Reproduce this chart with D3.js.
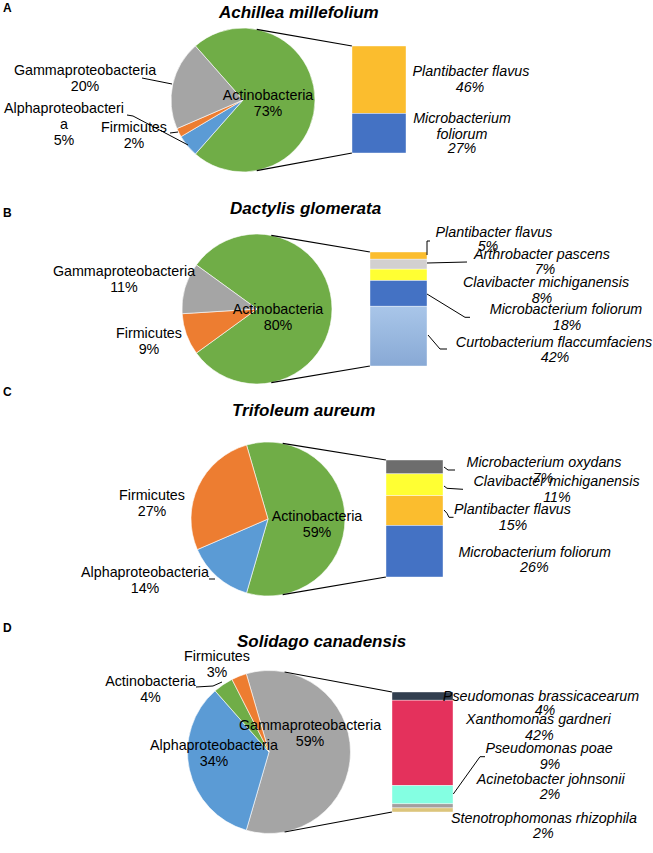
<!DOCTYPE html>
<html><head><meta charset="utf-8">
<script src="https://cdn.jsdelivr.net/npm/d3@7"></script>
<style>
body{margin:0;background:#fff}
svg{display:block}
text{font-family:"Liberation Sans",Arial,Helvetica,sans-serif;fill:#000}
</style>
</head><body>
<svg id="chart" width="653" height="853"></svg>
<script>
// ---------- DATA ----------
const panelLetters = ["A", "B", "C", "D"];
const plantTitles = ["Achillea millefolium", "Dactylis glomerata", "Trifoleum aureum", "Solidago canadensis"];

// Phylum shares (pie); first entry = slice expanded into the bar, others clockwise
const phylaA = ["Actinobacteria", "Alphaproteobacteria", "Firmicutes", "Gammaproteobacteria"];
const phylaValuesA = [73, 5, 2, 20];
const phylaB = ["Actinobacteria", "Firmicutes", "Gammaproteobacteria"];
const phylaValuesB = [80, 9, 11];
const phylaC = ["Actinobacteria", "Alphaproteobacteria", "Firmicutes"];
const phylaValuesC = [59, 14, 27];
const phylaD = ["Gammaproteobacteria", "Alphaproteobacteria", "Actinobacteria", "Firmicutes"];
const phylaValuesD = [59, 34, 4, 3];

// Species shares (bar), top to bottom
const speciesA = ["Plantibacter flavus", "Microbacterium foliorum"];
const speciesValuesA = [46, 27];
const speciesB = ["Plantibacter flavus", "Arthrobacter pascens", "Clavibacter michiganensis", "Microbacterium foliorum", "Curtobacterium flaccumfaciens"];
const speciesValuesB = [5, 7, 8, 18, 42];
const speciesC = ["Microbacterium oxydans", "Clavibacter michiganensis", "Plantibacter flavus", "Microbacterium foliorum"];
const speciesValuesC = [7, 11, 15, 26];
const speciesD = ["Pseudomonas brassicacearum", "Xanthomonas gardneri", "Pseudomonas poae", "Acinetobacter johnsonii", "Stenotrophomonas rhizophila"];
const speciesValuesD = [4, 42, 9, 2, 2];

// ---------- STYLE ----------
const phylumColors = {
  "Actinobacteria": "#70ad47",
  "Gammaproteobacteria": "#a5a5a5",
  "Firmicutes": "#ed7d31",
  "Alphaproteobacteria": "#5b9bd5"
};
const speciesColors = {
  "Plantibacter flavus": "#fbbd2e",
  "Microbacterium foliorum": "#4472c4",
  "Arthrobacter pascens": "#d2d0d0",
  "Clavibacter michiganensis": "#ffff33",
  "Curtobacterium flaccumfaciens": "url(#gradCurto)",
  "Microbacterium oxydans": "#6d6d6d",
  "Pseudomonas brassicacearum": "#323f4f",
  "Xanthomonas gardneri": "#e4315c",
  "Pseudomonas poae": "#84ffe2",
  "Acinetobacter johnsonii": "#a39e9e",
  "Stenotrophomonas rhizophila": "#dcc57c"
};

// ---------- LAYOUT ----------
const layout = [
  {cx: 243, cy: 100, r: 72,   barX: 352, barW: 54, barTop: 46,  barBot: 153, titleX: 219, titleY: 18,  letterY: 12},
  {cx: 257, cy: 309, r: 75,   barX: 370, barW: 57, barTop: 252, barBot: 366, titleX: 230, titleY: 214, letterY: 217},
  {cx: 268, cy: 519, r: 77,   barX: 386, barW: 57, barTop: 460, barBot: 577, titleX: 232, titleY: 416, letterY: 396},
  {cx: 269, cy: 752, r: 81.5, barX: 392, barW: 61, barTop: 692, barBot: 812, titleX: 237, titleY: 647, letterY: 632}
];
// pie label positions [cx, baseline, nameBreak]
const pieLabelPos = [
  [[268, 100], [64, 113, 18], [134, 132], [85, 75]],
  [[278, 314], [149, 338], [124, 276]],
  [[317, 521], [145, 577], [152, 500]],
  [[310, 730], [214, 750], [150.5, 686], [217, 661]]
];
const pieLeaders = [
  [[[142, 78], [172, 84]], [[127, 115], [133, 116], [188, 145]], [[170, 133], [178, 132]]],
  [],
  [[[209, 579], [215, 579]]],
  [[[196, 687], [213, 686], [222, 682]]]
];
// bar label positions [cx, baseline, pctCx, pctBaseline, nameBreak]
const barLabelPos = [
  [[471, 76, 470, 92], [462, 122.7, 462, 153, 14]],
  [[494, 236.7, 488, 250.5], [542, 259.3, 545, 274], [546, 287.3, 542, 302.7], [566, 314, 567, 330], [554, 346.7, 555, 361.7]],
  [[544, 467.3, 543, 483.3], [556.5, 485.7, 557, 501.7], [512.5, 514, 513, 530], [534.7, 556.7, 534.3, 571.7]],
  [[541, 700.7, 545, 715], [538.3, 724, 539.3, 740], [549, 753.3, 550, 769], [550.7, 784, 550, 799.3], [544, 823.3, 543.3, 838.3]]
];
const barLeaders = [
  [],
  [[[427, 255], [427, 241], [430, 241]], [[427, 263], [467, 262]], [[427, 294], [465, 317.3], [470, 317.3]], [[428, 335], [440, 349], [447, 349]]],
  [[[444, 467], [448, 470], [455, 470]], [[444, 486], [447, 488.3], [463, 489.3]], [[444, 510], [447, 513.3], [449, 517.3], [453.5, 517.3]]],
  [[[453.3, 794], [480, 756.7], [485, 756.7]]]
];

const phylaSets = [[phylaA, phylaValuesA], [phylaB, phylaValuesB], [phylaC, phylaValuesC], [phylaD, phylaValuesD]];
const speciesSets = [[speciesA, speciesValuesA], [speciesB, speciesValuesB], [speciesC, speciesValuesC], [speciesD, speciesValuesD]];

// ---------- DRAW ----------
const svg = d3.select("#chart");
const defs = svg.append("defs");
const g = defs.append("linearGradient").attr("id", "gradCurto").attr("x1", 0).attr("y1", 0).attr("x2", 0).attr("y2", 1);
g.append("stop").attr("offset", "0%").attr("stop-color", "#a9c6e9");
g.append("stop").attr("offset", "100%").attr("stop-color", "#88a9d5");

const line = d3.line();
const FS = 14.3;
const LH = 16;

function multiLine(sel, lines, cx, y, italic) {
  const t = sel.append("text")
    .attr("text-anchor", "middle")
    .attr("font-size", FS)
    .attr("font-style", italic ? "italic" : "normal");
  lines.forEach((s, i) => {
    t.append("tspan").attr("x", cx).attr("y", y + i * LH).text(s);
  });
  return t;
}

panelLetters.forEach((letter, p) => {
  const L = layout[p];
  const [names, values] = phylaSets[p];
  const [spNames, spValues] = speciesSets[p];
  const panel = svg.append("g");

  // panel letter and title
  panel.append("text").attr("x", 3).attr("y", L.letterY)
    .attr("font-size", 12).attr("font-weight", "bold").text(letter);
  panel.append("text").attr("x", L.titleX).attr("y", L.titleY)
    .attr("font-size", 17).attr("font-weight", "bold").attr("font-style", "italic")
    .text(plantTitles[p]);

  // pie
  const total = d3.sum(values);
  const half = values[0] / total * Math.PI;
  const start = Math.PI / 2 - half;
  const pie = d3.pie().sort(null).value(d => d.v).startAngle(start).endAngle(start + 2 * Math.PI);
  const arc = d3.arc().innerRadius(0).outerRadius(L.r);
  const arcs = pie(names.map((n, i) => ({n, v: values[i]})));
  panel.append("g").attr("transform", `translate(${L.cx},${L.cy})`)
    .selectAll("path").data(arcs).join("path")
    .attr("d", arc)
    .attr("fill", d => phylumColors[d.data.n])
    .attr("stroke", "#ffffff").attr("stroke-width", 0.6);

  // series lines from pie to bar
  const th = 11 * Math.PI / 180;
  const px = L.cx + L.r * Math.sin(th);
  const dy = L.r * Math.cos(th);
  panel.append("path").attr("d", line([[px, L.cy - dy], [L.barX, L.barTop]]))
    .attr("stroke", "#000").attr("stroke-width", 1.2).attr("fill", "none");
  panel.append("path").attr("d", line([[px, L.cy + dy], [L.barX, L.barBot]]))
    .attr("stroke", "#000").attr("stroke-width", 1.2).attr("fill", "none");

  // stacked bar
  const y = d3.scaleLinear().domain([0, d3.sum(spValues)]).range([L.barTop, L.barBot]);
  const cum = d3.cumsum(spValues);
  panel.append("g").selectAll("rect").data(spNames).join("rect")
    .attr("x", L.barX).attr("width", L.barW)
    .attr("y", (d, i) => y(cum[i] - spValues[i]))
    .attr("height", (d, i) => y(cum[i]) - y(cum[i] - spValues[i]))
    .attr("fill", d => speciesColors[d])
    .attr("stroke", "#ffffff").attr("stroke-width", 0.4);

  // leaders
  pieLeaders[p].concat(barLeaders[p]).forEach(pts => {
    panel.append("path").attr("d", line(pts))
      .attr("stroke", "#000").attr("stroke-width", 1).attr("fill", "none");
  });

  // pie labels
  names.forEach((n, i) => {
    const pos = pieLabelPos[p][i];
    const nameLines = pos[2] ? [n.slice(0, pos[2]), n.slice(pos[2])] : [n];
    multiLine(panel, nameLines.concat([values[i] + "%"]), pos[0], pos[1], false);
  });

  // bar labels
  spNames.forEach((n, i) => {
    const pos = barLabelPos[p][i];
    const nameLines = pos[4] ? [n.slice(0, pos[4]).trim(), n.slice(pos[4]).trim()] : [n];
    multiLine(panel, nameLines, pos[0], pos[1], true);
    panel.append("text").attr("text-anchor", "middle").attr("font-size", FS)
      .attr("font-style", "italic").attr("x", pos[2]).attr("y", pos[3])
      .text(spValues[i] + "%");
  });
});
</script>
</body></html>
